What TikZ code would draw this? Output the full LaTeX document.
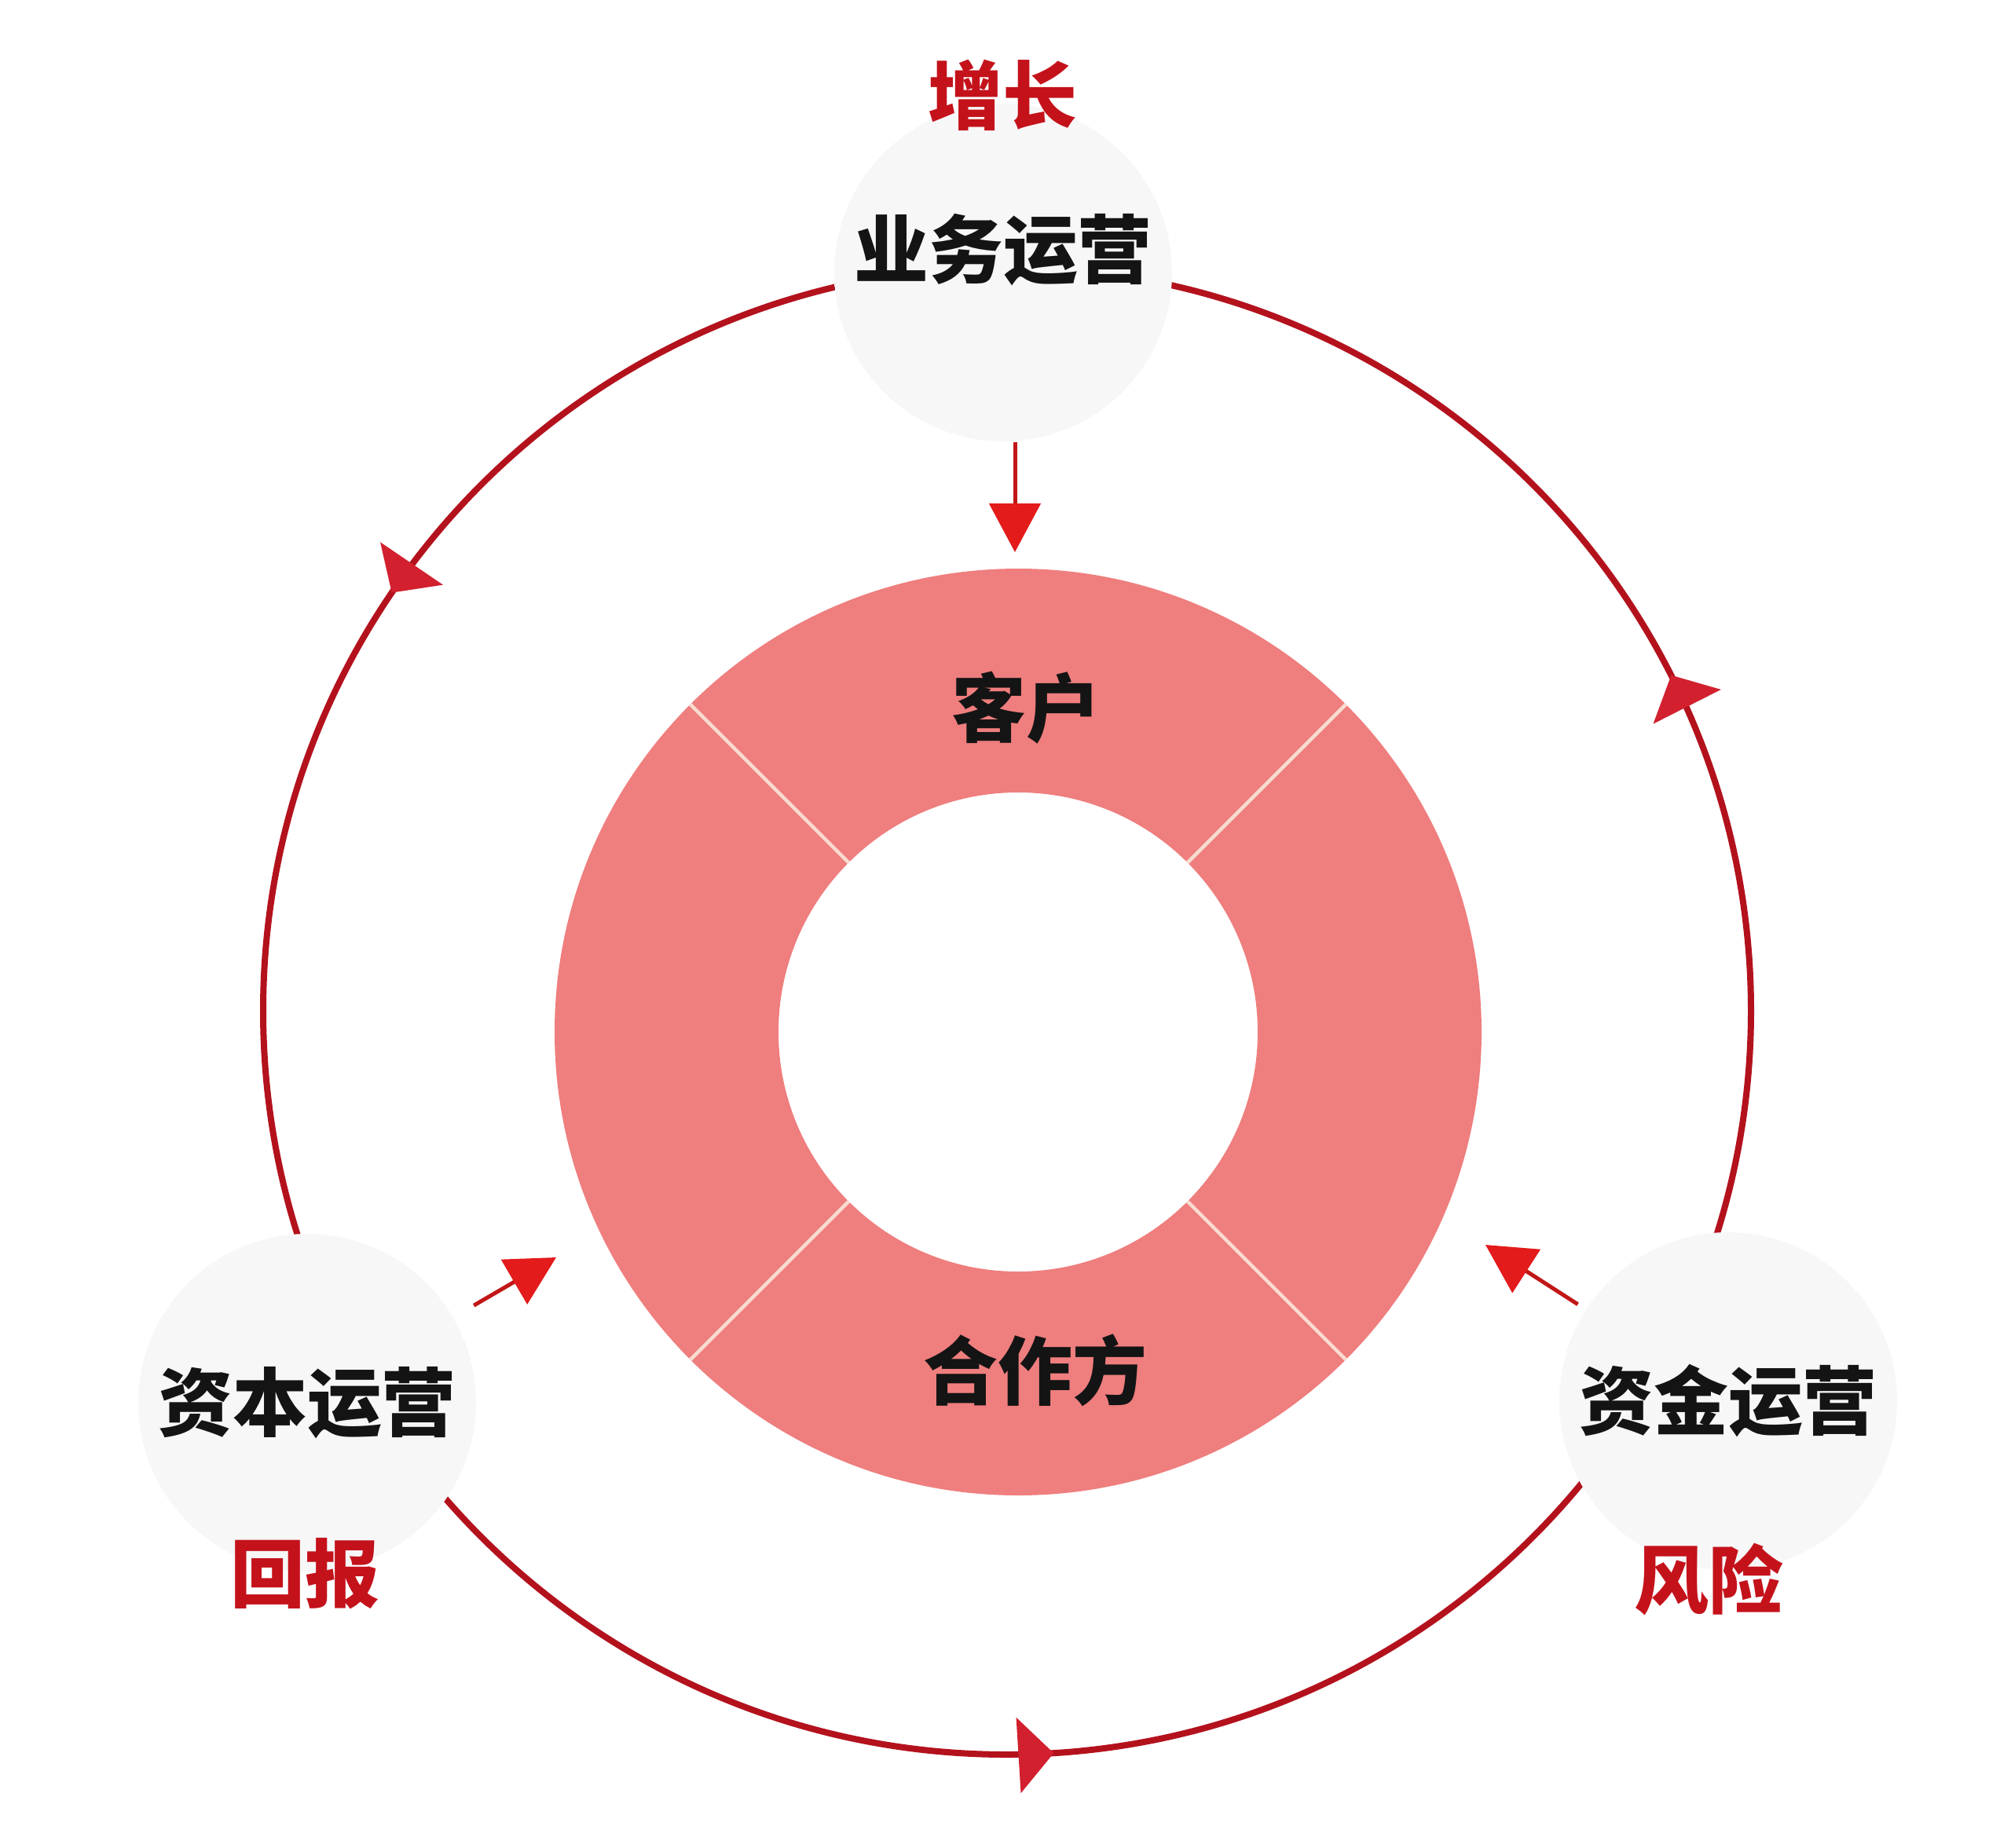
\documentclass[tikz,border=0pt]{standalone}
\usepackage{fontspec}
\newfontfamily\cjk{Noto Sans CJK SC}
\usetikzlibrary{arrows.meta,decorations.markings}
\definecolor{orbitred}{HTML}{B3121D}
\definecolor{headred}{HTML}{D2202F}
\definecolor{donutpink}{HTML}{EF7E7E}
\definecolor{seamcream}{HTML}{F8DCCF}
\definecolor{tagred}{HTML}{C4121B}
\definecolor{pointred}{HTML}{E31B1B}
\definecolor{ballin}{HTML}{F7F7F7}
\definecolor{ballout}{HTML}{E2E2E2}
\pgfdeclareradialshading{ballshade}{\pgfpoint{0bp}{0bp}}{color(0bp)=(ballin); color(30bp)=(ballin); color(50bp)=(ballout)}

\begin{document}
\begin{tikzpicture}[
        ops/.style={circle, minimum size=4.3cm, inner sep=0pt, shading=ballshade,
            font=\cjk\bfseries\fontsize{27}{30}\selectfont, text=black!92},
        redtag/.style={font=\cjk\bfseries\fontsize{27}{30}\selectfont, text=tagred},
        ringtext/.style={font=\cjk\bfseries\fontsize{27}{30}\selectfont, text=black!92},
        orbit/.style={draw=orbitred, line width=0.08cm, postaction=decorate,
            decoration={markings,
                mark=at position 0.0745 with {\arrow[headred]{Triangle[length=0.45cm,width=0.95cm]}},
                mark=at position 0.405 with {\arrow[headred]{Triangle[length=0.45cm,width=0.95cm]}},
                mark=at position 0.760 with {\arrow[headred]{Triangle[length=0.45cm,width=0.95cm]}}}},
        seam/.style={draw=seamcream, line width=1.3pt},
        inarrow/.style={draw=pointred!85!black, line width=0.05cm,
            -{Triangle[length=0.62cm,width=0.65cm,color=pointred]}}]
    \useasboundingbox (0,0) rectangle (25.6,-23.52);
    \coordinate (hub) at (12.82,-12.87);
    \coordinate (ctr) at (12.96,-13.14);
    \draw[orbit] (hub) circle (9.47);
    \fill[donutpink, even odd rule] (ctr) circle (5.9) (ctr) circle (3.05);
    \foreach \a in {45,135,225,315}
        \draw[seam] (ctr) ++(\a:3.05) -- ++(\a:2.85);
    \node[ops, text depth=0.69cm] (biz) at (12.77,-3.47) {业务运营};
    \node[ops] (cap) at (3.91,-17.86) {资本运营};
    \node[ops] (fund) at (22.0,-17.84) {资金运营};
    \node[redtag] (grow) at (12.76,-1.21) {增长};
    \node[redtag] (ret) at (3.88,-20.04) {回报};
    \node[redtag] (risk) at (21.75,-20.11) {风险};
    \node[ringtext] (cust) at (13.06,-9.01) {客户};
    \node[ringtext] (partner) at (13.18,-17.45) {合作方};
    \coordinate (custTip) at (12.92,-7.03);
    \coordinate (capTip) at (7.08,-16.01);
    \coordinate (fundTip) at (18.91,-15.85);
    \draw[inarrow] (biz.south -| custTip) -- (custTip);
    \draw[inarrow, shorten <=0.3cm] (cap) -- (capTip);
    \draw[inarrow, shorten <=0.12cm] (fund) -- (fundTip);
\end{tikzpicture}
\end{document}
